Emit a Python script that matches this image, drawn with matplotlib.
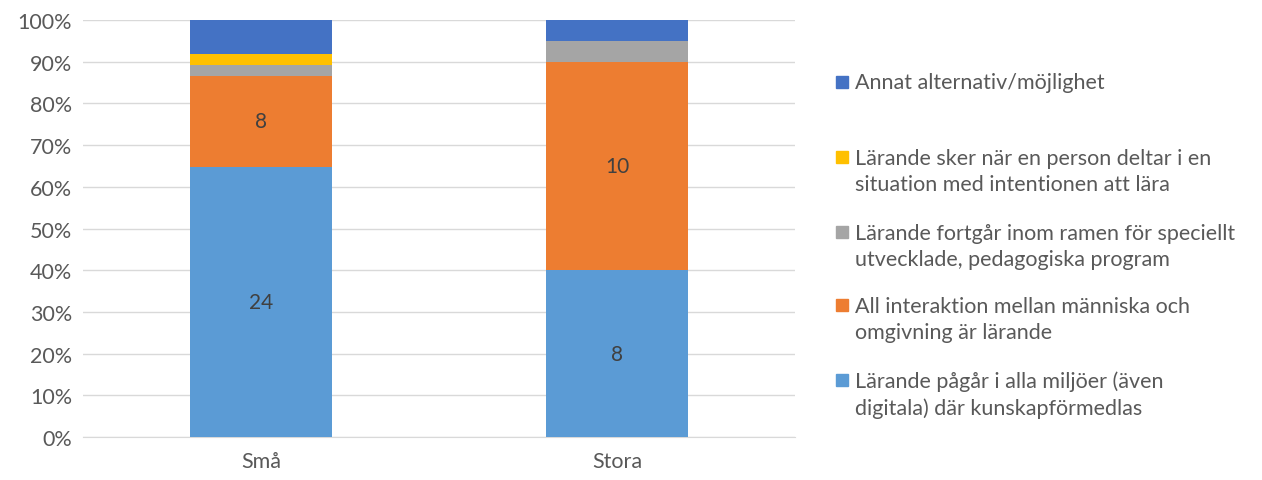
import matplotlib.pyplot as plt
import matplotlib.patches as mpatches
import numpy as np

plt.rcParams['font.family'] = ['Lato', 'DejaVu Sans']

categories = ['Små', 'Stora']
series_names = [
    'Lärande pågår i alla miljöer (även\ndigitala) där kunskapförmedlas',
    'All interaktion mellan människa och\nomgivning är lärande',
    'Lärande fortgår inom ramen för speciellt\nutvecklade, pedagogiska program',
    'Lärande sker när en person deltar i en\nsituation med intentionen att lära',
    'Annat alternativ/möjlighet',
]
pagar = [24, 8]
interaktion = [8, 10]
fortgar = [1, 1]
sker = [1, 0]
annat = [3, 1]
colors = ['#5B9BD5', '#ED7D31', '#A5A5A5', '#FFC000', '#4472C4']
labelled = [True, True, False, False, False]

values = np.array([pagar, interaktion, fortgar, sker, annat], dtype=float)
totals = values.sum(axis=0)
shares = values / totals * 100

fig = plt.figure(figsize=(12.62, 4.81), dpi=100)
ax = fig.add_axes([0.0658, 0.0894, 0.5642, 0.8669])

x = np.arange(len(categories))
bottom = np.zeros(len(categories))
for i in range(len(series_names)):
    bars = ax.bar(x, shares[i], 0.4, bottom=bottom, color=colors[i], zorder=3)
    if labelled[i]:
        for j, b in enumerate(bars):
            ax.text(b.get_x() + b.get_width() / 2, bottom[j] + shares[i][j] / 2,
                    '%d' % values[i][j], ha='center', va='center',
                    fontsize=15, color='#404040', zorder=4)
    bottom += shares[i]

ax.set_xlim(-0.5, 1.5)
ax.set_ylim(0, 100)
ax.set_yticks(range(0, 101, 10))
ax.set_yticklabels(['%d%%' % v for v in range(0, 101, 10)])
ax.set_xticks(x)
ax.set_xticklabels(categories)
ax.tick_params(length=0, labelsize=15.5, colors='#595959')
ax.tick_params(axis='x', pad=10)
ax.tick_params(axis='y', pad=8)
ax.grid(axis='y', color='#D9D9D9', linewidth=1, zorder=0)
for s in ['top', 'right', 'left']:
    ax.spines[s].set_visible(False)
ax.spines['bottom'].set_color('#D9D9D9')

# legend, placed by hand like the Excel one
W, H = 1262, 481
leg_y = [395, 320, 247, 172, 83]
for i in range(len(series_names)):
    yc = leg_y[i]
    nlines = series_names[i].count('\n') + 1
    first = yc - (nlines - 1) * 14.5
    fig.patches.append(mpatches.Rectangle((836 / W, 1 - (first + 6) / H), 12 / W, 12 / H,
                                          transform=fig.transFigure, color=colors[i]))
    fig.text(855 / W, 1 - yc / H, series_names[i], ha='left', va='center',
             fontsize=15.5, color='#595959', linespacing=1.38)

fig.savefig('out.png', dpi=100)
